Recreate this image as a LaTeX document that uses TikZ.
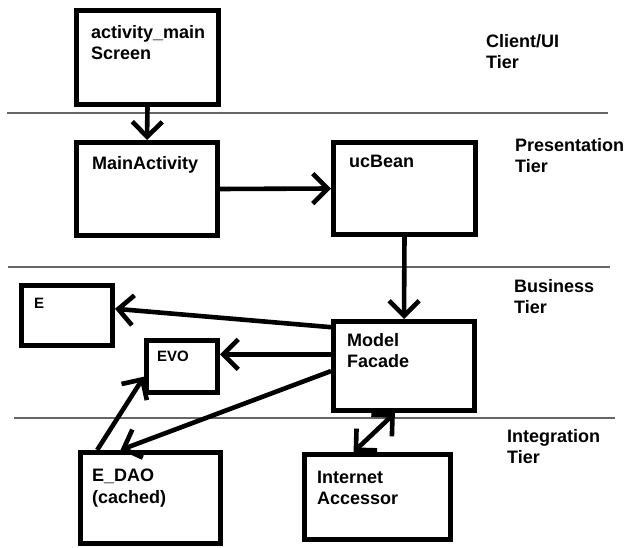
\documentclass[tikz,border=0pt]{standalone}
\usepackage{fontspec}
\setmainfont{Liberation Sans}
\usetikzlibrary{arrows.meta}

\begin{document}
\begin{tikzpicture}[x=1pt, y=-1pt,
  box/.style={draw, line width=5pt, rectangle, inner sep=0pt},
  lbl/.style={font=\bfseries\fontsize{18}{21}\selectfont, align=left, inner sep=0pt, anchor=base west},
  slbl/.style={font=\bfseries\fontsize{15}{18}\selectfont, align=left, inner sep=0pt, anchor=base west},
  tier/.style={draw=black!60, line width=1.3pt},
  barb/.tip={Straight Barb[length=15pt,width=30pt]},
  arr/.style={line width=4.6pt, -barb},
  darr/.style={line width=4.6pt, barb-barb}
]
\useasboundingbox (0,0) rectangle (630,548);

% tier separators
\draw[tier] (7,113) -- (608,113);
\draw[tier] (8,267) -- (610,267);
\draw[tier] (14,418) -- (615,418);

% component boxes
\node[box, minimum width=142pt, minimum height=94pt] (am)  at (147.5,57.5) {};
\node[box, minimum width=141pt, minimum height=93pt] (ma)  at (147,189) {};
\node[box, minimum width=142pt, minimum height=92pt] (uc)  at (404.5,188.5) {};
\node[box, minimum width=141pt, minimum height=89pt] (mf)  at (404,366) {};
\node[box, minimum width=91pt,  minimum height=60pt] (e)   at (67,315.5) {};
\node[box, minimum width=71pt,  minimum height=52pt] (evo) at (182,366.5) {};
\node[box, minimum width=140pt, minimum height=91pt] (dao) at (150.5,498) {};
\node[box, minimum width=146pt, minimum height=85pt] (ia)  at (377.5,497) {};

% box captions (multi-line captions sit on the baseline of their last line)
\node[lbl] (t-am)  at (91,60)   {activity\_main\\Screen};
\node[lbl] (t-ma)  at (92,170)  {MainActivity};
\node[lbl] (t-uc)  at (349,168) {ucBean};
\node[lbl] (t-mf)  at (347,368) {Model\\Facade};
\node[slbl] (t-e)  at (34,309)  {E};
\node[slbl] (t-evo) at (157,362) {EVO};
\node[lbl] (t-dao) at (92,503)  {E\_DAO\\(cached)};
\node[lbl] (t-ia)  at (317,504) {Internet\\Accessor};

% tier captions
\node[lbl] (t-client) at (486,69)  {Client/UI\\Tier};
\node[lbl] (t-pres)   at (515,173) {Presentation\\Tier};
\node[lbl] (t-bus)    at (514,314) {Business\\Tier};
\node[lbl] (t-int)    at (507,464) {Integration\\Tier};

% connectors
\draw[arr] (am.south) -- (ma.north);
\draw[arr] (ma.east) -- (uc.west);
\draw[arr] (uc.south) -- (mf.north);
\draw[arr] (mf.152.5) -- (e.8.5);
\draw[arr] (mf.171) -- (mf.171 -| evo.east);
\draw[arr] (mf.184.7) -- (dao.122.5);
\draw[arr] (dao.138) -- (evo.195);
\draw[darr] (mf.259) -- (ia.118.6);
\end{tikzpicture}
\end{document}
